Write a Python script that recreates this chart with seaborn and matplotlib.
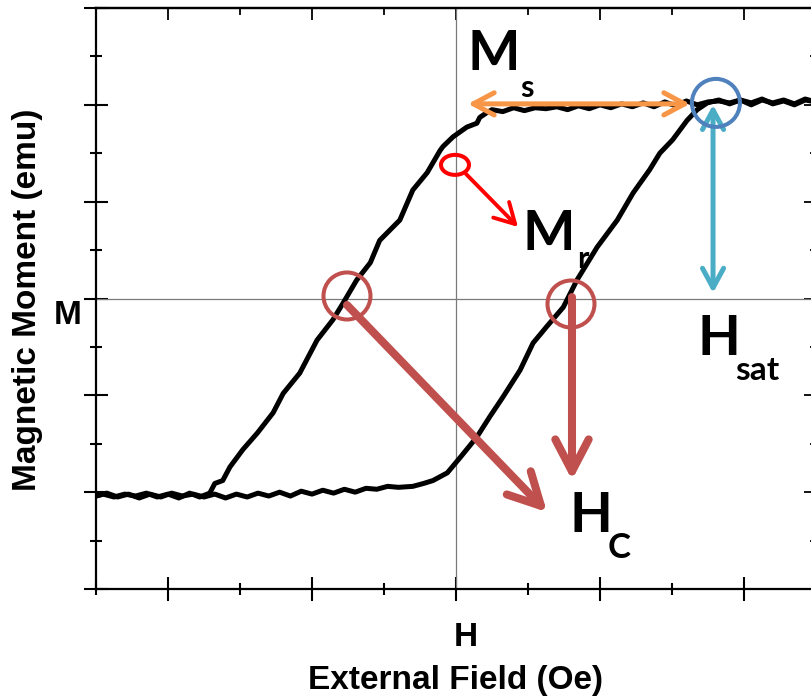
import numpy as np
import pandas as pd
import matplotlib
matplotlib.use("Agg")
import matplotlib.pyplot as plt
import seaborn as sns
from matplotlib.patches import Ellipse
from matplotlib.ticker import NullFormatter

# ---------------- data ----------------
# descending branch (from +saturation to -saturation)
desc_h = [5.0, 4.85, 4.7, 4.55, 4.4, 4.25, 4.1, 3.95, 3.8, 3.65, 3.5, 3.35, 3.2, 3.05,
          2.9, 2.75, 2.6, 2.45, 2.3, 2.15, 2.0, 1.85, 1.7, 1.55, 1.4, 1.25, 1.1, 0.95,
          0.8, 0.65, 0.5, 0.43, 0.33, 0.29, 0.15, -0.04, -0.18, -0.22, -0.40, -0.60,
          -0.78, -1.06, -1.19, -1.38, -1.57, -1.71, -1.93, -2.17, -2.40, -2.54, -2.76,
          -2.96, -3.14, -3.24, -3.35, -3.42, -3.56, -3.7, -3.85, -4.0, -4.15, -4.3,
          -4.45, -4.6, -4.75, -4.9, -5.0]
desc_m = [2.03, 2.06, 2.01, 2.05, 2.02, 2.05, 2.00, 2.05, 2.02, 2.04, 2.03, 2.00, 2.04,
          1.99, 2.03, 1.98, 2.02, 1.98, 2.01, 1.97, 2.00, 1.96, 1.99, 1.95, 1.98, 1.96,
          1.97, 1.94, 1.97, 1.93, 1.95, 1.92, 1.87, 1.81, 1.77, 1.67, 1.57, 1.53, 1.30,
          1.12, 0.81, 0.60, 0.37, 0.19, -0.05, -0.22, -0.43, -0.77, -0.98, -1.18, -1.39,
          -1.56, -1.74, -1.88, -1.91, -2.01, -2.05, -2.01, -2.06, -2.02, -2.05, -2.01,
          -2.04, -2.02, -2.05, -2.02, -2.04]
# ascending branch (from -saturation to +saturation)
asc_h = [-5.0, -4.85, -4.7, -4.55, -4.4, -4.25, -4.1, -3.95, -3.8, -3.65, -3.5, -3.35,
         -3.2, -3.05, -2.9, -2.75, -2.6, -2.45, -2.3, -2.15, -2.0, -1.85, -1.7, -1.55,
         -1.4, -1.25, -1.1, -0.95, -0.8, -0.6, -0.45, -0.32, -0.12, 0.06, 0.29, 0.47,
         0.65, 0.89, 1.07, 1.26, 1.49, 1.68, 1.96, 2.24, 2.46, 2.69, 2.83, 3.01, 3.21,
         3.35, 3.49, 3.65, 3.8, 3.95, 4.1, 4.25, 4.4, 4.55, 4.7, 4.85, 5.0]
asc_m = [-2.04, -2.01, -2.05, -2.02, -2.06, -2.02, -2.05, -2.01, -2.04, -2.02, -2.05,
         -2.02, -2.06, -2.02, -2.05, -2.01, -2.04, -2.00, -2.04, -1.99, -2.02, -1.98,
         -2.01, -1.97, -2.00, -1.96, -1.97, -1.94, -1.95, -1.94, -1.91, -1.88, -1.80,
         -1.64, -1.43, -1.22, -1.02, -0.74, -0.46, -0.29, -0.09, 0.19, 0.53, 0.81,
         1.09, 1.33, 1.50, 1.64, 1.84, 1.95, 2.02, 2.05, 2.01, 2.05, 2.02, 2.06, 2.01,
         2.04, 2.00, 2.05, 2.03]

x_major = [-4, -2, 0, 2, 4]
x_minor = [-5, -3, -1, 1, 3, 5]
y_major = [-3, -2, -1, 0, 1, 2, 3]
y_minor = [-2.5, -1.5, -0.5, 0.5, 1.5, 2.5]

# annotation anchors (data units)
ms_arrow = ((0.167, 2.01), (3.25, 2.01))
hsat_arrow = ((3.57, 2.00), (3.57, 0.057))
hsat_circle = (3.61, 2.02)
mr_circle = (-0.014, 1.38)
mr_arrow = ((0.139, 1.286), (0.861, 0.739))
hc_circles = [(-1.514, 0.026), (1.597, -0.057)]
hc_arrows = [((-1.514, -0.067), (1.264, -2.206)), ((1.611, 0.015), (1.611, -1.875))]

# ---------------- figure ----------------
sns.set_style("ticks")
plt.rcParams['font.family'] = ['Liberation Sans', 'DejaVu Sans']
plt.rcParams['text.color'] = 'black'
plt.rcParams['axes.labelcolor'] = 'black'

W, H = 811, 696
fig = plt.figure(figsize=(W / 100, H / 100), dpi=100)
ax = fig.add_axes([96 / W, 1 - 589 / H, 720 / W, 581 / H])
ax.set_facecolor("white")
ax.patch.set_alpha(0)

ax.set_xlim(-5, 5)
ax.set_ylim(-3, 3)

# crosshair
ax.axvline(0, color="#7a7a7a", lw=0.9, zorder=1)
ax.axhline(0, color="#7a7a7a", lw=0.9, zorder=1)

df_desc = pd.DataFrame({"H": desc_h, "M": desc_m})
df_asc = pd.DataFrame({"H": asc_h, "M": asc_m})
sns.lineplot(data=df_desc, x="H", y="M", sort=False, color="black", lw=3.6,
             ax=ax, zorder=3, estimator=None)
sns.lineplot(data=df_asc, x="H", y="M", sort=False, color="black", lw=3.6,
             ax=ax, zorder=3, estimator=None)

# spines / ticks
for s in ["left", "bottom", "top", "right"]:
    ax.spines[s].set_visible(True)
    ax.spines[s].set_linewidth(1.6)
    ax.spines[s].set_color("black")

ax.set_xticks(x_major)
ax.set_xticks(x_minor, minor=True)
ax.set_yticks(y_major)
ax.set_yticks(y_minor, minor=True)
ax.xaxis.set_major_formatter(NullFormatter())
ax.yaxis.set_major_formatter(NullFormatter())
ax.tick_params(which="major", direction="inout", length=17.3, width=1.5, color="black")
ax.tick_params(which="minor", direction="inout", length=8.6, width=1.5, color="black")
ax.tick_params(top=False, right=False, which="both")

secx = ax.secondary_xaxis("top")
secx.set_xticks(x_major)
secx.set_xticks(x_minor, minor=True)
secx.xaxis.set_major_formatter(NullFormatter())
secx.tick_params(which="major", direction="in", length=8.6, width=1.3, color="black")
secx.tick_params(which="minor", direction="in", length=5.0, width=1.3, color="black")
secx.spines["top"].set_linewidth(1.6)
secx.spines["top"].set_color("black")

secy = ax.secondary_yaxis("right")
secy.set_yticks(y_major)
secy.set_yticks(y_minor, minor=True)
secy.yaxis.set_major_formatter(NullFormatter())
secy.tick_params(which="major", direction="in", length=8.6, width=1.3, color="black")
secy.tick_params(which="minor", direction="in", length=4.3, width=1.3, color="black")

ax.set_xlabel("")
ax.set_ylabel("")

# axis labels
fig.text(28 / W, 1 - 300 / H, "Magnetic Moment (emu)", rotation=90, ha="center",
         va="center", fontsize=24, fontweight="bold", color="black")
fig.text(456 / W, 1 - 680 / H, "External Field (Oe)", ha="center", va="center",
         fontsize=24, fontweight="bold", color="black")
ax.text(0.14, -3.50, "H", ha="center", va="center", fontsize=24, fontweight="bold",
        clip_on=False, color="black")
ax.text(-5.40, -0.18, "M", ha="center", va="center", fontsize=24, fontweight="bold",
        clip_on=False, color="black")

# ---------------- annotations ----------------
ORANGE, CYAN, BLUE, BROWN, RED = "#F79646", "#4BACC6", "#4F81BD", "#C0504D", "#FF0000"

def arrow(p0, p1, style, color, lw, hl, hw, ms=20, z=5):
    ax.annotate("", xy=p1, xytext=p0,
                arrowprops=dict(arrowstyle=f"{style},head_length={hl},head_width={hw}",
                                color=color, lw=lw, shrinkA=0, shrinkB=0,
                                mutation_scale=ms, capstyle="round", joinstyle="round"),
                zorder=z, annotation_clip=False)

arrow(ms_arrow[0], ms_arrow[1], "<->", ORANGE, 3.6, 0.75, 0.4)
arrow(hsat_arrow[0], hsat_arrow[1], "<->", CYAN, 3.6, 0.7, 0.38)
arrow(mr_arrow[0], mr_arrow[1], "->", RED, 2.8, 0.72, 0.4)
for p0, p1 in hc_arrows:
    arrow(p0, p1, "->", BROWN, 5.8, 1.15, 0.6)

ax.add_patch(Ellipse(hsat_circle, 48 / 72, 48 / 96.8, fill=False, ec=BLUE, lw=2.9, zorder=6))
ax.add_patch(Ellipse(mr_circle, 28 / 72, 20 / 96.8, fill=False, ec=RED, lw=2.9, zorder=6))
for c in hc_circles:
    ax.add_patch(Ellipse(c, 47 / 72, 47 / 96.8, fill=False, ec=BROWN, lw=2.9, zorder=6))

# symbol labels
big = dict(fontsize=40, fontweight="bold", family=["Lato", "DejaVu Sans"], ha="left",
           va="baseline", zorder=7, color="black")
ax.text(0.153, 2.36, "M", **big)
ax.text(0.889, 2.08, "s", **{**big, "fontsize": 22})
ax.text(0.917, 0.50, "M", **big)
ax.text(1.68, 0.31, "r", **{**big, "fontsize": 22, "zorder": 2})
ax.text(3.35, -0.58, "H", **big)
ax.text(3.875, -0.84, "sat", **{**big, "fontsize": 24})
ax.text(1.58, -2.41, "H", **big)
ax.text(2.10, -2.68, "C", **{**big, "fontsize": 25})

fig.savefig("out.png", dpi=100)
